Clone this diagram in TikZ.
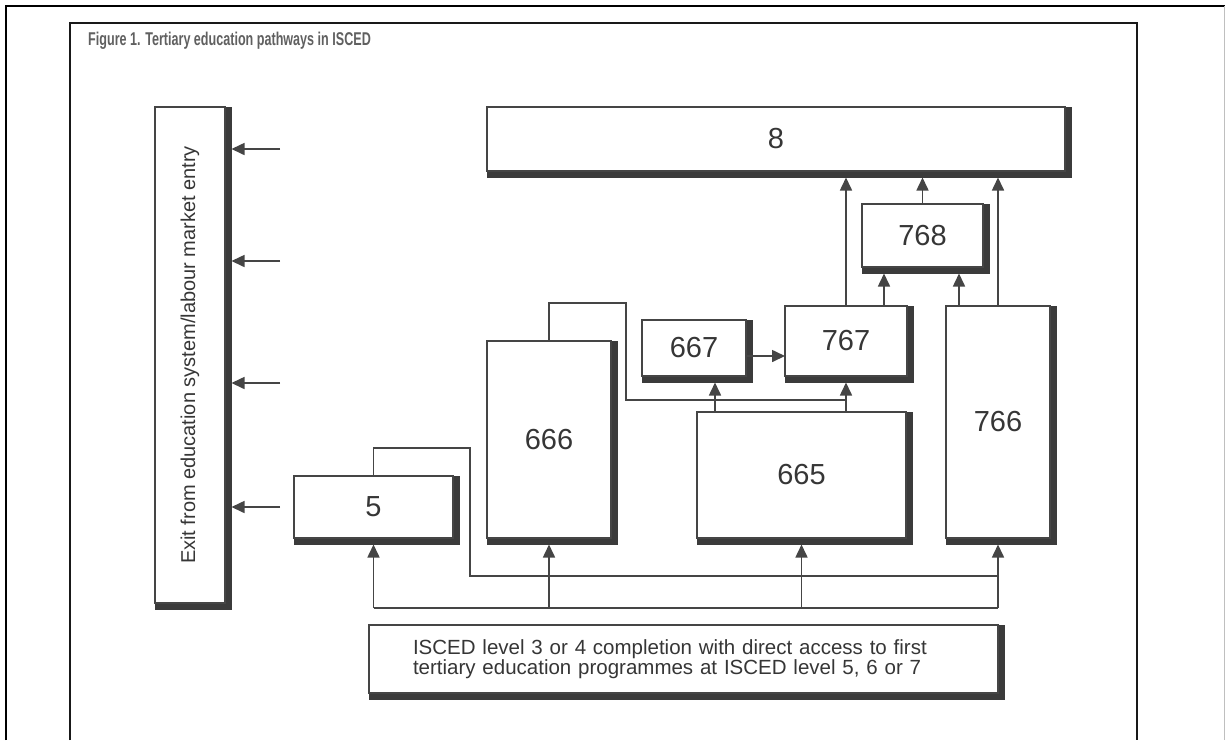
\documentclass[tikz,border=0pt]{standalone}
\usepackage{fontspec}
\setmainfont{Liberation Sans}
\usetikzlibrary{arrows.meta,positioning}

\definecolor{ink}{HTML}{363636}
\definecolor{rule}{HTML}{454545}
\definecolor{heading}{HTML}{606060}

\begin{document}
\begin{tikzpicture}
    [
      x=1pt, y=-1pt,
      rim/.style={draw=rule!85!black,line width=6.5pt},
      prog/.style={draw=rule,line width=1.3pt,fill=white,inner sep=0pt,outer sep=0pt,
        text=ink,font=\fontsize{29}{29}\selectfont,
        append after command={\pgfextra{\draw [rim]
          ([xshift=3.25pt]\tikzlastnode.north east)
          -- ([xshift=3.25pt,yshift=-3.25pt]\tikzlastnode.south east)
          -- ([yshift=-3.25pt]\tikzlastnode.south west);}}},
      link/.style={draw=rule,line width=1.6pt},
      post/.style={link,-{Triangle[length=13pt,width=12pt]}},
    ]

    \useasboundingbox (0,0) rectangle (1225,740);

    % page frame
    \draw [line width=2.2pt] (6,740) -- (6,6) -- (1225,6);
    \draw [line width=0.8pt,black!25] (1224,6) -- (1224,740);
    \draw [line width=1.6pt,black!90] (70,740) -- (70,23) -- (1137,23) -- (1137,740);

    \node (title) [anchor=base west,inner sep=0pt,text=heading,
      font=\bfseries\fontsize{18.5}{18.5}\selectfont] at (88,45)
      {\scalebox{0.68}[1]{Figure 1. Tertiary education pathways in ISCED}};

    \node (exit) [prog,minimum width=70pt,minimum height=496pt,
      font=\fontsize{20}{20}\selectfont] at (190,355)
      {\rotatebox{90}{Exit from education system/labour market entry}};

    \node (lvl-8) [prog,minimum width=578pt,minimum height=64pt] at (776,139) {8};

    \node (lvl-768) [prog,minimum width=121pt,minimum height=63pt] at (922.5,235.5) {768};

    \node (lvl-767) [prog,minimum width=122pt,minimum height=70pt] at (846,341) {767};

    \node (lvl-667) [prog,minimum width=104pt,minimum height=56pt] at (694,348) {667};

    \node (lvl-766) [prog,minimum width=104pt,minimum height=232pt] at (998,422) {766};

    \node (lvl-666) [prog,minimum width=124pt,minimum height=197pt] at (549,439.5) {666};

    \node (lvl-665) [prog,minimum width=209pt,minimum height=126pt] at (801.5,475) {665};

    \node (lvl-5) [prog,minimum width=159pt,minimum height=62pt] at (373.5,507) {5};

    \node (entry) [prog,minimum width=629pt,minimum height=68pt,text width=541pt,align=left,
      font=\fontsize{20.5}{20}\selectfont] at (683.5,659)
      {ISCED level 3 or 4 completion with direct access to first\\
       tertiary education programmes at ISCED level 5, 6 or 7};

    % outer edges of the shadows, where arrows land
    \coordinate (exit-rim) at ([xshift=6.5pt]exit.east);
    \coordinate (rim-8) at ([yshift=-6.5pt]lvl-8.south);
    \coordinate (rim-768) at ([yshift=-6.5pt]lvl-768.south);
    \coordinate (rim-767) at ([yshift=-6.5pt]lvl-767.south);
    \coordinate (rim-667) at ([yshift=-6.5pt]lvl-667.south);
    \coordinate (rim-766) at ([yshift=-6.5pt]lvl-766.south);
    \coordinate (rim-666) at ([yshift=-6.5pt]lvl-666.south);
    \coordinate (rim-665) at ([yshift=-6.5pt]lvl-665.south);
    \coordinate (rim-5) at ([yshift=-6.5pt]lvl-5.south);

    \coordinate (out-1) at (280,149);
    \coordinate (out-2) at (280,261);
    \coordinate (out-3) at (280,383);
    \coordinate (out-4) at (280,507);
    \coordinate (rail) at (0,608);
    \coordinate (rail-b) at (0,576);
    \coordinate (rail-c) at (0,400);
    \coordinate (bend-5) at (470,448);
    \coordinate (bend-666) at (626,303);
    \coordinate (tap-667) at (715,412);
    \coordinate (join) at (0,356);
    \coordinate (tap-768) at (884,306);
    \coordinate (tap-766) at (959,306);

    \path
    (out-1) edge [post] (out-1 -| exit-rim)
    (out-2) edge [post] (out-2 -| exit-rim)
    (out-3) edge [post] (out-3 -| exit-rim)
    (out-4) edge [post] (out-4 -| exit-rim)
    ;

    \draw [link] (lvl-5 |- rail) -- (lvl-766 |- rail);
    \draw [link] (lvl-5.north) |- (bend-5) |- (lvl-766 |- rail-b);
    \draw [link] (lvl-666.north) |- (bend-666) |- (lvl-767 |- rail-c);

    \path
    (lvl-5 |- rail) edge [post] (rim-5)
    (lvl-666 |- rail) edge [post] (rim-666)
    (lvl-665 |- rail) edge [post] (rim-665)
    (lvl-766 |- rail) edge [post] (rim-766)

    (tap-667) edge [post] (tap-667 |- rim-667)
    (lvl-767 |- lvl-665.north) edge [post] (rim-767)
    (lvl-667.east |- join) edge [post] (lvl-767.west |- join)

    (lvl-767.north) edge [post] (lvl-767.north |- rim-8)
    (tap-768) edge [post] (tap-768 |- rim-768)
    (lvl-768.north) edge [post] (lvl-768.north |- rim-8)
    (tap-766) edge [post] (tap-766 |- rim-768)
    (lvl-766.north) edge [post] (lvl-766.north |- rim-8)
    ;

  \end{tikzpicture}
\end{document}
